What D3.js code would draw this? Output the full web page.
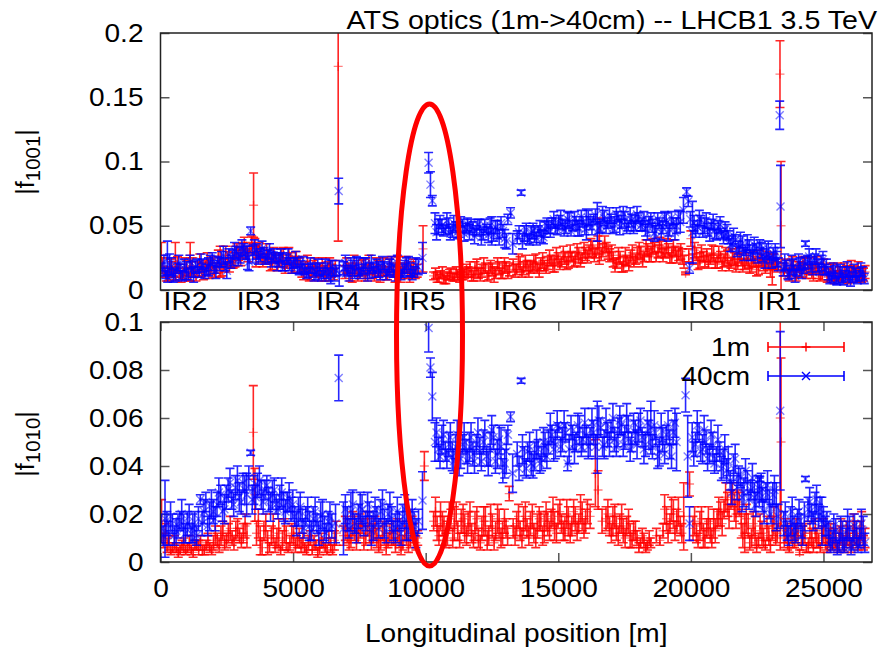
<!DOCTYPE html>
<html>
<head>
<meta charset="utf-8">
<script src="https://cdn.jsdelivr.net/npm/d3@7"></script>
<style>
  body { margin: 0; background: #fff; }
  svg { display: block; }
  text { font-family: "Liberation Sans", Arial, sans-serif; fill: #000; }
</style>
</head>
<body>
<div id="chart"></div>
<script>
// [s (m), |f|, error]
const f1001_1m = [
  [30,0.027,0.010],[150,0.014,0.004],[290,0.012,0.005],[430,0.016,0.006],[560,0.025,0.012],[570,0.011,0.004],[710,0.015,0.005],[850,0.013,0.004],[990,0.017,0.006],[1120,0.027,0.010],[1130,0.012,0.005],[1270,0.014,0.004],[1410,0.016,0.006],
  [1550,0.016,0.005],[1690,0.019,0.004],[1830,0.015,0.006],[1970,0.021,0.005],[2110,0.017,0.004],[2250,0.022,0.012],[2390,0.019,0.005],[2530,0.024,0.006],[2670,0.021,0.004],[2810,0.026,0.008],[2950,0.028,0.005],
  [3090,0.031,0.006],[3230,0.029,0.005],[3370,0.033,0.004],[3510,0.066,0.025],[3560,0.034,0.006],[3650,0.030,0.005],
  [3790,0.027,0.006],[3930,0.024,0.004],[4070,0.026,0.005],[4210,0.022,0.006],[4350,0.025,0.004],[4490,0.023,0.005],[4630,0.027,0.006],[4770,0.021,0.004],[4910,0.024,0.005],[5050,0.020,0.006],[5190,0.022,0.004],
  [5330,0.015,0.005],[5470,0.018,0.004],[5610,0.012,0.005],[5750,0.017,0.006],[5890,0.014,0.004],[6030,0.016,0.005],[6170,0.013,0.006],[6310,0.018,0.004],[6450,0.015,0.005],[6590,0.017,0.006],
  [6700,0.174,0.136],
  [6950,0.014,0.005],[7090,0.017,0.004],[7230,0.012,0.006],[7370,0.016,0.005],[7510,0.013,0.004],[7650,0.018,0.006],[7790,0.014,0.005],[7930,0.016,0.004],[8070,0.012,0.005],[8210,0.017,0.006],
  [8350,0.015,0.004],[8490,0.013,0.005],[8630,0.018,0.006],[8770,0.014,0.004],[8910,0.016,0.005],[9050,0.012,0.006],[9190,0.017,0.004],[9330,0.014,0.005],[9470,0.016,0.006],[9610,0.013,0.004],
  [9900,0.032,0.018],
  [10300,0.011,0.003],[10430,0.010,0.004],[10560,0.012,0.003],[10690,0.009,0.004],[10820,0.011,0.003],[10950,0.013,0.004],[11080,0.010,0.003],[11210,0.012,0.004],[11340,0.011,0.003],[11470,0.013,0.004],
  [11600,0.014,0.004],[11730,0.012,0.005],[11860,0.016,0.006],[11990,0.013,0.004],[12120,0.015,0.005],[12250,0.017,0.004],[12380,0.014,0.006],[12510,0.016,0.005],[12640,0.013,0.004],[12770,0.017,0.005],[12900,0.015,0.006],[13030,0.018,0.004],[13160,0.016,0.005],
  [13300,0.019,0.005],[13430,0.016,0.004],[13560,0.020,0.006],[13690,0.017,0.005],[13820,0.019,0.004],[13950,0.018,0.005],[14080,0.021,0.006],[14210,0.017,0.004],[14340,0.020,0.005],[14470,0.019,0.004],
  [14600,0.021,0.005],[14730,0.023,0.004],[14860,0.020,0.006],[14990,0.024,0.005],[15120,0.022,0.004],[15250,0.025,0.005],[15380,0.023,0.006],[15510,0.026,0.004],[15640,0.024,0.005],[15770,0.027,0.006],[15900,0.025,0.004],[16030,0.028,0.005],
  [16160,0.030,0.005],[16290,0.032,0.006],[16420,0.029,0.004],[16550,0.038,0.018],[16680,0.031,0.005],[16810,0.033,0.004],
  [16940,0.027,0.005],[17070,0.024,0.006],[17200,0.021,0.004],[17330,0.025,0.005],[17460,0.020,0.006],[17590,0.023,0.004],[17720,0.026,0.005],[17850,0.022,0.004],[17980,0.027,0.006],[18110,0.029,0.005],[18240,0.026,0.004],
  [18370,0.031,0.005],[18500,0.028,0.006],[18630,0.033,0.004],[18760,0.030,0.005],[18890,0.032,0.006],[19020,0.029,0.004],[19150,0.031,0.005],[19280,0.027,0.006],[19410,0.030,0.004],[19540,0.028,0.005],
  [19680,0.026,0.006],[19800,0.013,0.001],[19920,0.027,0.005],[20000,0.040,0.006],[20080,0.024,0.004],[20210,0.028,0.005],[20340,0.023,0.006],[20470,0.026,0.004],
  [20600,0.027,0.005],[20730,0.024,0.004],[20860,0.028,0.006],[20990,0.022,0.005],[21120,0.026,0.004],[21250,0.023,0.005],[21380,0.025,0.006],[21510,0.021,0.004],[21640,0.024,0.005],[21770,0.022,0.006],
  [21900,0.024,0.005],[22030,0.020,0.004],[22160,0.023,0.006],[22290,0.019,0.005],[22420,0.022,0.004],[22550,0.018,0.006],[22680,0.023,0.005],[22810,0.017,0.004],[22940,0.021,0.005],[23070,0.016,0.012],[23200,0.020,0.004],
  [23360,0.168,0.026],[23400,0.050,0.050],
  [23520,0.016,0.005],[23650,0.013,0.004],[23780,0.017,0.006],[23910,0.014,0.005],[24040,0.018,0.004],[24170,0.015,0.005],[24300,0.019,0.006],[24430,0.016,0.004],[24560,0.014,0.005],[24690,0.017,0.004],[24820,0.015,0.006],[24950,0.013,0.005],
  [25080,0.016,0.004],[25210,0.012,0.005],[25340,0.014,0.006],[25470,0.011,0.004],[25600,0.013,0.005],[25730,0.010,0.004],[25860,0.014,0.005],[25990,0.012,0.006],[26120,0.015,0.004],[26250,0.011,0.005],[26380,0.013,0.004],[26510,0.012,0.005],
  // second group of BPMs
  [80,0.019,0.006],[220,0.011,0.004],[360,0.017,0.007],[500,0.013,0.005],[640,0.020,0.006],[780,0.010,0.004],[920,0.018,0.007],[1060,0.012,0.005],[1200,0.019,0.006],[1340,0.011,0.004],[1480,0.021,0.007],
  [1620,0.013,0.005],[1760,0.022,0.007],[1900,0.018,0.006],[2040,0.014,0.004],[2180,0.025,0.006],[2320,0.016,0.005],[2460,0.027,0.007],[2600,0.018,0.004],[2740,0.023,0.006],[2880,0.031,0.005],
  [3020,0.025,0.006],[3160,0.034,0.007],[3300,0.027,0.005],[3440,0.036,0.006],[3600,0.026,0.008],
  [3720,0.031,0.006],[3860,0.023,0.005],[4000,0.029,0.007],[4140,0.020,0.005],[4280,0.027,0.006],[4420,0.019,0.004],[4560,0.025,0.007],[4700,0.018,0.005],[4840,0.027,0.006],[4980,0.017,0.004],[5120,0.024,0.006],
  [5260,0.019,0.006],[5400,0.012,0.004],[5540,0.020,0.007],[5680,0.013,0.005],[5820,0.019,0.006],[5960,0.011,0.004],[6100,0.018,0.007],[6240,0.012,0.005],[6380,0.019,0.006],[6520,0.012,0.004],
  [7020,0.019,0.006],[7160,0.012,0.005],[7300,0.020,0.007],[7440,0.011,0.004],[7580,0.017,0.006],[7720,0.012,0.005],[7860,0.020,0.007],[8000,0.013,0.004],[8140,0.019,0.006],[8280,0.011,0.005],
  [8420,0.018,0.007],[8560,0.012,0.004],[8700,0.020,0.006],[8840,0.011,0.005],[8980,0.019,0.007],[9120,0.013,0.004],[9260,0.020,0.006],[9400,0.011,0.005],[9540,0.018,0.006],[9680,0.015,0.005],
  [10370,0.013,0.004],[10500,0.009,0.003],[10630,0.014,0.004],[10760,0.008,0.003],[10890,0.012,0.004],[11020,0.010,0.003],[11150,0.014,0.004],[11280,0.009,0.003],[11410,0.012,0.004],[11540,0.015,0.005],
  [11670,0.017,0.005],[11800,0.011,0.004],[11930,0.018,0.006],[12060,0.012,0.005],[12190,0.019,0.006],[12320,0.011,0.004],[12450,0.018,0.005],[12580,0.012,0.006],[12710,0.020,0.005],[12840,0.013,0.004],[12970,0.019,0.006],[13100,0.014,0.005],
  [13370,0.015,0.005],[13500,0.022,0.006],[13630,0.014,0.004],[13760,0.021,0.006],[13890,0.015,0.005],[14020,0.018,0.004],[14150,0.022,0.006],[14280,0.015,0.005],[14410,0.023,0.006],[14540,0.017,0.004],
  [14670,0.025,0.006],[14800,0.019,0.005],[14930,0.027,0.006],[15060,0.020,0.004],[15190,0.028,0.006],[15320,0.021,0.005],[15450,0.029,0.006],[15580,0.022,0.004],[15710,0.030,0.006],[15840,0.023,0.005],[15970,0.031,0.006],[16100,0.026,0.005],
  [16230,0.034,0.006],[16360,0.027,0.005],[16490,0.035,0.007],[16620,0.028,0.005],[16750,0.036,0.006],[16880,0.029,0.005],
  [17010,0.029,0.006],[17140,0.019,0.005],[17270,0.027,0.006],[17400,0.018,0.004],[17530,0.026,0.007],[17660,0.020,0.005],[17790,0.029,0.006],[17920,0.024,0.004],[18050,0.031,0.006],[18180,0.023,0.005],[18310,0.033,0.006],
  [18430,0.027,0.005],[18560,0.034,0.006],[18690,0.026,0.004],[18820,0.035,0.006],[18950,0.027,0.005],[19080,0.034,0.006],[19210,0.025,0.004],[19340,0.033,0.006],[19470,0.026,0.005],
  [19620,0.030,0.006],[19740,0.022,0.005],[20140,0.031,0.006],[20270,0.021,0.005],[20400,0.029,0.006],[20530,0.022,0.004],
  [20660,0.022,0.005],[20790,0.029,0.006],[20920,0.021,0.004],[21050,0.028,0.006],[21180,0.020,0.005],[21310,0.027,0.006],[21440,0.019,0.004],[21570,0.026,0.006],[21700,0.019,0.005],[21830,0.027,0.006],
  [21960,0.019,0.005],[22090,0.025,0.006],[22220,0.017,0.004],[22350,0.024,0.006],[22480,0.016,0.005],[22610,0.025,0.006],[22740,0.019,0.004],[22870,0.024,0.006],[23000,0.015,0.005],[23130,0.022,0.006],[23260,0.018,0.004],
  [23580,0.019,0.005],[23710,0.011,0.004],[23840,0.020,0.006],[23970,0.012,0.005],[24100,0.016,0.006],[24230,0.021,0.005],[24360,0.013,0.004],[24490,0.019,0.006],[24620,0.012,0.005],[24750,0.020,0.006],[24880,0.011,0.004],[25010,0.018,0.006],
  [25140,0.010,0.004],[25270,0.016,0.005],[25400,0.009,0.004],[25530,0.015,0.006],[25660,0.011,0.004],[25790,0.016,0.005],[25920,0.009,0.004],[26050,0.017,0.006],[26180,0.013,0.005],[26310,0.016,0.006],[26440,0.010,0.004],[26570,0.014,0.005]
];

const f1001_40cm = [
  [60,0.016,0.005],[200,0.013,0.004],[260,0.025,0.013],[340,0.020,0.008],[480,0.011,0.005],[620,0.017,0.004],[760,0.014,0.006],[900,0.019,0.005],[1040,0.012,0.004],[1180,0.016,0.006],[1320,0.018,0.005],[1460,0.014,0.004],
  [1600,0.019,0.005],[1740,0.016,0.004],[1880,0.021,0.006],[2020,0.018,0.005],[2160,0.022,0.004],[2300,0.024,0.006],[2440,0.020,0.005],[2500,0.015,0.006],[2580,0.027,0.005],[2720,0.025,0.006],[2860,0.029,0.005],
  [3000,0.027,0.006],[3140,0.031,0.005],[3280,0.025,0.009],[3400,0.046,0.003],[3480,0.028,0.007],
  [3620,0.030,0.006],[3760,0.027,0.005],[3900,0.029,0.004],[4040,0.026,0.005],[4180,0.024,0.006],[4320,0.025,0.004],[4460,0.023,0.005],[4600,0.022,0.007],[4740,0.024,0.004],[4880,0.020,0.005],[5020,0.021,0.004],[5160,0.019,0.006],
  [5300,0.018,0.005],[5440,0.016,0.004],[5580,0.015,0.005],[5720,0.017,0.004],[5860,0.014,0.006],[6000,0.016,0.005],[6140,0.013,0.004],[6280,0.015,0.006],[6420,0.014,0.009],[6560,0.012,0.005],
  [6720,0.077,0.010],[6740,0.013,0.010],
  [6900,0.017,0.005],[7040,0.015,0.004],[7180,0.019,0.006],[7320,0.014,0.005],[7460,0.018,0.007],[7600,0.016,0.004],[7740,0.020,0.005],[7880,0.015,0.006],[8020,0.017,0.004],[8160,0.019,0.005],
  [8300,0.014,0.006],[8440,0.018,0.004],[8580,0.016,0.005],[8720,0.020,0.006],[8860,0.013,0.006],[9000,0.017,0.004],[9140,0.015,0.005],[9280,0.019,0.006],[9420,0.016,0.005],[9560,0.014,0.004],
  [9720,0.018,0.006],[9880,0.025,0.012],
  [10110,0.099,0.008],[10180,0.082,0.010],[10250,0.0695,0.004],
  [10350,0.052,0.008],[10480,0.049,0.006],[10610,0.050,0.005],[10740,0.047,0.004],[10870,0.050,0.006],[11000,0.046,0.005],[11130,0.049,0.004],[11260,0.047,0.006],[11390,0.050,0.005],[11520,0.048,0.004],
  [11650,0.045,0.006],[11780,0.048,0.005],[11910,0.046,0.004],[12040,0.049,0.006],[12170,0.044,0.005],[12300,0.047,0.004],[12430,0.050,0.006],[12560,0.043,0.005],[12700,0.047,0.007],[12840,0.052,0.005],[12980,0.040,0.007],[13100,0.055,0.004],
  [13200,0.060,0.004],[13280,0.036,0.008],[13600,0.0757,0.002],
  [13450,0.041,0.005],[13720,0.044,0.006],[13850,0.040,0.004],[13980,0.045,0.005],[14110,0.043,0.006],[14240,0.046,0.004],[14370,0.042,0.005],[14500,0.047,0.006],
  [14630,0.049,0.005],[14760,0.052,0.004],[14890,0.050,0.006],[15020,0.053,0.005],[15150,0.051,0.004],[15280,0.049,0.005],[15410,0.054,0.006],[15540,0.050,0.004],[15670,0.052,0.005],[15800,0.048,0.006],[15930,0.053,0.004],[16060,0.051,0.012],
  [16200,0.052,0.005],[16330,0.055,0.004],[16470,0.053,0.015],[16600,0.050,0.005],[16730,0.056,0.006],[16860,0.052,0.004],[16990,0.054,0.005],[17120,0.051,0.006],[17250,0.057,0.004],[17380,0.053,0.005],[17510,0.055,0.006],[17640,0.050,0.004],[17770,0.054,0.005],[17900,0.052,0.006],[18030,0.056,0.004],
  [18160,0.051,0.005],[18290,0.048,0.006],[18420,0.053,0.004],[18550,0.050,0.005],[18680,0.046,0.006],[18810,0.052,0.004],[18940,0.049,0.005],[19070,0.054,0.006],[19200,0.047,0.005],[19330,0.052,0.004],[19460,0.050,0.006],
  [19600,0.053,0.008],[19720,0.062,0.010],[19840,0.0765,0.003],[19900,0.069,0.004],[19950,0.017,0.004],[19980,0.055,0.006],[20060,0.045,0.024],
  [20120,0.052,0.006],[20250,0.049,0.005],[20380,0.054,0.004],[20510,0.050,0.006],[20640,0.047,0.005],[20770,0.051,0.004],[20900,0.046,0.006],[21030,0.049,0.005],[21160,0.044,0.004],[21290,0.047,0.006],
  [21420,0.041,0.005],[21550,0.036,0.006],[21680,0.039,0.004],[21810,0.033,0.005],[21940,0.036,0.006],[22070,0.031,0.004],[22200,0.034,0.005],[22330,0.029,0.006],[22460,0.032,0.004],
  [22600,0.036,0.003],[22720,0.027,0.005],[22850,0.030,0.006],[22980,0.025,0.004],[23110,0.028,0.005],[23240,0.024,0.006],
  [23350,0.136,0.011],[23380,0.065,0.032],
  [23480,0.016,0.005],[23600,0.019,0.004],[23730,0.014,0.005],[23860,0.018,0.006],[23990,0.015,0.004],[24120,0.020,0.005],[24250,0.017,0.004],[24320,0.036,0.002],
  [24400,0.022,0.005],[24530,0.020,0.006],[24660,0.024,0.004],[24790,0.019,0.005],[24920,0.021,0.006],[25050,0.016,0.004],
  [25180,0.013,0.005],[25310,0.010,0.004],[25440,0.014,0.005],[25570,0.009,0.004],[25700,0.012,0.006],[25830,0.011,0.004],[25960,0.013,0.005],[26090,0.010,0.004],[26220,0.012,0.005],[26350,0.011,0.004],[26480,0.013,0.005],
  // second group of BPMs
  [130,0.021,0.006],[270,0.010,0.004],[410,0.018,0.007],[550,0.012,0.005],[690,0.021,0.006],[830,0.011,0.004],[970,0.015,0.007],[1110,0.022,0.005],[1250,0.012,0.006],[1390,0.019,0.005],
  [1530,0.022,0.006],[1670,0.013,0.004],[1810,0.018,0.007],[1950,0.024,0.005],[2090,0.015,0.006],[2230,0.020,0.005],[2370,0.027,0.007],[2650,0.022,0.005],[2790,0.031,0.006],[2930,0.024,0.005],
  [3070,0.033,0.006],[3210,0.029,0.005],[3340,0.022,0.007],[3540,0.033,0.006],
  [3690,0.025,0.005],[3830,0.032,0.006],[3970,0.024,0.004],[4110,0.030,0.006],[4250,0.027,0.005],[4390,0.021,0.006],[4530,0.027,0.005],[4670,0.019,0.004],[4810,0.026,0.006],[4950,0.018,0.005],[5090,0.024,0.006],[5230,0.016,0.004],
  [5370,0.020,0.006],[5510,0.013,0.004],[5650,0.019,0.006],[5790,0.012,0.005],[5930,0.018,0.006],[6070,0.011,0.004],[6210,0.018,0.006],[6350,0.012,0.005],[6490,0.017,0.006],[6630,0.015,0.004],
  [6970,0.021,0.006],[7110,0.012,0.005],[7250,0.017,0.006],[7390,0.021,0.005],[7530,0.013,0.004],[7670,0.019,0.006],[7810,0.012,0.005],[7950,0.021,0.006],[8090,0.014,0.004],[8230,0.016,0.006],
  [8370,0.021,0.005],[8510,0.012,0.004],[8650,0.018,0.006],[8790,0.015,0.005],[8930,0.021,0.006],[9070,0.012,0.004],[9210,0.017,0.006],[9350,0.021,0.005],[9490,0.012,0.004],[9630,0.019,0.006],
  [10410,0.045,0.006],[10540,0.053,0.005],[10670,0.046,0.004],[10800,0.054,0.006],[10930,0.044,0.005],[11060,0.052,0.006],[11190,0.045,0.005],[11320,0.053,0.004],[11450,0.044,0.006],[11580,0.051,0.005],
  [11710,0.050,0.005],[11840,0.042,0.006],[11970,0.051,0.004],[12100,0.041,0.006],[12230,0.050,0.005],[12360,0.043,0.006],[12490,0.046,0.011],[12630,0.049,0.005],[12770,0.041,0.006],[12910,0.046,0.005],[13040,0.038,0.006],
  [13520,0.045,0.005],[13650,0.038,0.006],[13790,0.047,0.005],[13920,0.039,0.004],[14050,0.046,0.006],[14180,0.040,0.005],[14310,0.048,0.006],[14440,0.041,0.005],[14570,0.050,0.006],
  [14700,0.046,0.005],[14830,0.055,0.006],[14960,0.047,0.004],[15090,0.056,0.006],[15220,0.047,0.005],[15350,0.055,0.006],[15480,0.046,0.004],[15610,0.056,0.005],[15740,0.048,0.006],[15870,0.057,0.005],[16000,0.047,0.004],[16130,0.056,0.006],
  [16270,0.049,0.006],[16400,0.058,0.005],[16530,0.048,0.004],[16670,0.059,0.006],[16800,0.049,0.005],[16930,0.058,0.006],[17060,0.048,0.004],[17190,0.059,0.005],[17320,0.049,0.006],[17450,0.060,0.005],[17580,0.048,0.004],[17710,0.058,0.006],[17840,0.049,0.005],[17970,0.059,0.006],[18100,0.050,0.004],
  [18230,0.056,0.005],[18360,0.045,0.006],[18490,0.056,0.004],[18620,0.044,0.006],[18750,0.055,0.005],[18880,0.045,0.006],[19010,0.057,0.004],[19140,0.044,0.006],[19270,0.056,0.005],[19400,0.045,0.006],[19530,0.057,0.005],
  [20180,0.046,0.005],[20320,0.056,0.006],[20450,0.045,0.004],[20580,0.054,0.006],[20710,0.043,0.005],[20840,0.053,0.006],[20970,0.043,0.004],[21100,0.051,0.006],[21230,0.041,0.005],[21360,0.045,0.006],
  [21480,0.035,0.005],[21610,0.042,0.006],[21740,0.030,0.004],[21870,0.039,0.006],[22000,0.028,0.005],[22130,0.037,0.006],[22260,0.027,0.004],[22390,0.035,0.006],[22520,0.026,0.005],
  [22660,0.031,0.006],[22790,0.022,0.005],[22920,0.032,0.006],[23050,0.021,0.004],[23180,0.030,0.006],[23300,0.020,0.005],
  [23540,0.022,0.006],[23670,0.012,0.004],[23800,0.021,0.006],[23930,0.011,0.005],[24060,0.022,0.006],[24190,0.013,0.004],[24300,0.021,0.005],
  [24460,0.026,0.006],[24590,0.017,0.005],[24720,0.026,0.006],[24850,0.016,0.004],[24980,0.024,0.006],
  [25110,0.018,0.006],[25240,0.009,0.004],[25370,0.016,0.005],[25500,0.007,0.003],[25630,0.015,0.005],[25760,0.008,0.004],[25890,0.016,0.006],[26020,0.007,0.004],[26150,0.015,0.005],[26280,0.008,0.003],[26410,0.016,0.005],[26540,0.009,0.004]
];

const f1010_1m = [
  [40,0.017,0.009],[180,0.012,0.004],[320,0.008,0.003],[460,0.006,0.002],
  [600,0.006,0.002],[740,0.005,0.002],[880,0.007,0.003],[1020,0.006,0.002],[1160,0.005,0.002],[1300,0.007,0.002],[1440,0.006,0.003],[1580,0.005,0.002],[1720,0.007,0.002],[1860,0.006,0.002],[2000,0.008,0.003],
  [2140,0.009,0.003],[2280,0.011,0.004],[2420,0.008,0.003],[2560,0.012,0.004],[2700,0.010,0.003],[2840,0.013,0.004],[2980,0.011,0.003],[3120,0.012,0.004],
  [3260,0.011,0.005],[3500,0.054,0.0195],[3560,0.028,0.011],
  [3620,0.012,0.005],[3760,0.009,0.006],[3900,0.013,0.004],[4040,0.008,0.005],[4180,0.011,0.004],[4320,0.007,0.003],[4460,0.012,0.006],[4600,0.009,0.004],[4740,0.010,0.005],[4880,0.008,0.003],[5020,0.011,0.004],[5160,0.009,0.003],
  [5300,0.007,0.003],[5440,0.006,0.002],[5580,0.008,0.003],[5720,0.005,0.002],[5860,0.007,0.002],[6000,0.006,0.003],[6140,0.008,0.002],[6280,0.005,0.002],[6420,0.007,0.003],[6560,0.009,0.004],
  [6900,0.011,0.004],[7040,0.013,0.005],[7180,0.010,0.004],[7320,0.014,0.005],[7460,0.012,0.004],[7600,0.015,0.003],[7740,0.011,0.004],[7880,0.013,0.005],[8020,0.012,0.004],
  [8160,0.010,0.004],[8300,0.008,0.003],[8440,0.011,0.004],[8580,0.009,0.003],[8720,0.012,0.005],[8860,0.007,0.003],[9000,0.010,0.004],[9140,0.008,0.003],[9280,0.011,0.004],[9420,0.009,0.003],[9560,0.012,0.004],[9700,0.010,0.003],
  [9950,0.040,0.006],
  [10300,0.017,0.004],[10430,0.014,0.005],[10560,0.019,0.006],[10690,0.015,0.004],[10820,0.012,0.005],[10950,0.018,0.004],[11080,0.016,0.007],[11210,0.013,0.004],[11340,0.017,0.005],[11470,0.014,0.006],
  [11600,0.016,0.005],[11730,0.012,0.004],[11860,0.015,0.006],[11990,0.010,0.004],[12120,0.014,0.005],[12250,0.017,0.006],[12380,0.011,0.004],[12510,0.015,0.005],[12640,0.013,0.004],[12770,0.016,0.006],[12900,0.012,0.005],[13030,0.014,0.004],
  [13150,0.0285,0.003],
  [13300,0.014,0.004],[13430,0.016,0.005],[13560,0.013,0.004],[13690,0.017,0.006],[13820,0.014,0.004],[13950,0.016,0.005],[14080,0.012,0.004],[14210,0.015,0.005],[14340,0.017,0.004],[14470,0.014,0.006],
  [14600,0.016,0.005],[14730,0.018,0.004],[14860,0.015,0.006],[14990,0.019,0.005],[15120,0.016,0.004],[15250,0.014,0.005],[15380,0.017,0.006],[15510,0.015,0.004],[15640,0.018,0.005],[15770,0.016,0.004],[15900,0.019,0.006],[16030,0.017,0.005],
  [16200,0.019,0.005],[16400,0.037,0.014],[16500,0.030,0.008],[16650,0.017,0.005],
  [16800,0.018,0.005],[16930,0.015,0.004],[17060,0.017,0.006],[17190,0.014,0.005],[17320,0.016,0.004],[17450,0.013,0.005],[17580,0.015,0.004],[17710,0.011,0.005],[17840,0.013,0.004],[17970,0.010,0.003],[18100,0.008,0.002],[18230,0.009,0.003],[18360,0.007,0.002],[18490,0.008,0.002],
  [18700,0.011,0.003],[18830,0.009,0.002],
  [18950,0.013,0.003],[19080,0.018,0.005],[19210,0.016,0.004],[19340,0.020,0.006],[19470,0.017,0.005],[19600,0.015,0.004],[19730,0.019,0.014],[19950,0.0325,0.005],
  [20080,0.014,0.005],[20210,0.012,0.004],[20340,0.015,0.006],[20470,0.011,0.005],[20600,0.014,0.004],[20730,0.013,0.005],[20860,0.016,0.006],[20990,0.018,0.004],[21120,0.020,0.005],[21250,0.022,0.004],[21380,0.024,0.005],[21510,0.026,0.004],[21640,0.023,0.006],[21770,0.025,0.005],
  [21900,0.016,0.006],[22030,0.012,0.008],[22160,0.015,0.005],[22290,0.010,0.004],[22420,0.013,0.006],[22550,0.009,0.003],[22680,0.012,0.005],[22810,0.007,0.002],[22940,0.011,0.004],[23070,0.014,0.005],[23200,0.010,0.003],
  [23370,0.060,0.055],[23400,0.050,0.035],
  [23520,0.010,0.004],[23650,0.008,0.003],[23780,0.012,0.004],[23910,0.009,0.003],[24040,0.011,0.004],[24100,0.004,0.001],[24170,0.008,0.003],[24300,0.012,0.004],[24430,0.007,0.003],[24560,0.010,0.004],[24690,0.013,0.005],[24820,0.009,0.003],[24950,0.011,0.004],
  [25080,0.008,0.003],[25210,0.010,0.004],[25340,0.007,0.002],[25470,0.009,0.003],[25600,0.011,0.004],[25730,0.008,0.003],[25860,0.012,0.005],[25990,0.009,0.003],[26120,0.014,0.006],[26250,0.010,0.004],[26380,0.012,0.005],[26510,0.008,0.003],
  // second group of BPMs
  [110,0.009,0.003],[250,0.007,0.003],[390,0.005,0.002],[530,0.008,0.003],[670,0.004,0.002],[810,0.007,0.002],[950,0.005,0.002],[1090,0.008,0.003],[1230,0.004,0.002],[1370,0.007,0.002],[1510,0.008,0.003],[1650,0.005,0.002],[1790,0.009,0.003],[1930,0.005,0.002],
  [2070,0.011,0.004],[2210,0.007,0.003],[2350,0.013,0.004],[2490,0.009,0.003],[2630,0.014,0.005],[2770,0.008,0.003],[2910,0.014,0.004],[3050,0.009,0.003],[3190,0.015,0.005],
  [3690,0.016,0.006],[3830,0.006,0.003],[3970,0.015,0.005],[4110,0.006,0.002],[4250,0.014,0.006],[4390,0.010,0.004],[4530,0.005,0.002],[4670,0.013,0.005],[4810,0.006,0.002],[4950,0.012,0.004],[5090,0.007,0.003],[5230,0.010,0.004],
  [5370,0.009,0.003],[5510,0.005,0.002],[5650,0.010,0.003],[5790,0.008,0.003],[5930,0.004,0.002],[6070,0.009,0.003],[6210,0.006,0.002],[6350,0.010,0.003],[6490,0.005,0.002],[6630,0.012,0.005],
  [6970,0.014,0.005],[7110,0.008,0.003],[7250,0.016,0.005],[7390,0.009,0.004],[7530,0.015,0.005],[7670,0.008,0.003],[7810,0.016,0.005],[7950,0.009,0.004],[8090,0.014,0.005],[8230,0.007,0.003],
  [8370,0.013,0.004],[8510,0.006,0.003],[8650,0.012,0.004],[8790,0.010,0.003],[8930,0.013,0.005],[9070,0.006,0.003],[9210,0.013,0.004],[9350,0.007,0.003],[9490,0.014,0.005],[9630,0.008,0.003],
  [10370,0.021,0.006],[10500,0.011,0.004],[10630,0.016,0.005],[10760,0.009,0.003],[10890,0.019,0.006],[11020,0.010,0.004],[11150,0.020,0.005],[11280,0.009,0.003],[11410,0.018,0.006],[11540,0.011,0.004],
  [11670,0.019,0.006],[11800,0.009,0.003],[11930,0.018,0.005],[12060,0.008,0.003],[12190,0.017,0.006],[12320,0.009,0.004],[12450,0.019,0.005],[12580,0.008,0.003],[12710,0.018,0.006],[12840,0.010,0.004],[12970,0.017,0.005],[13090,0.011,0.004],
  [13370,0.011,0.004],[13500,0.019,0.005],[13630,0.010,0.004],[13760,0.019,0.006],[13890,0.011,0.004],[14020,0.019,0.005],[14150,0.010,0.004],[14280,0.018,0.005],[14410,0.011,0.004],[14540,0.019,0.006],
  [14670,0.013,0.004],[14800,0.021,0.006],[14930,0.012,0.004],[15060,0.021,0.005],[15190,0.013,0.004],[15320,0.020,0.006],[15450,0.012,0.004],[15580,0.021,0.005],[15710,0.013,0.004],[15840,0.022,0.006],[15970,0.014,0.004],[16100,0.021,0.005],
  [16870,0.020,0.006],[17000,0.012,0.004],[17130,0.019,0.005],[17260,0.011,0.004],[17390,0.018,0.006],[17520,0.010,0.004],[17650,0.017,0.005],[17780,0.009,0.003],[17910,0.013,0.004],[18040,0.006,0.002],[18170,0.011,0.003],[18300,0.006,0.002],[18430,0.010,0.003],
  [19010,0.022,0.006],[19140,0.012,0.004],[19270,0.022,0.005],[19400,0.013,0.004],[19530,0.021,0.006],[19660,0.012,0.004],
  [20140,0.017,0.006],[20270,0.009,0.003],[20400,0.018,0.005],[20530,0.010,0.004],[20660,0.017,0.006],[20790,0.010,0.004],[20920,0.013,0.005],[21050,0.021,0.006],[21180,0.016,0.005],[21310,0.027,0.006],[21440,0.019,0.005],[21570,0.028,0.005],[21700,0.020,0.006],[21830,0.024,0.005],
  [21960,0.011,0.005],[22090,0.018,0.006],[22220,0.008,0.003],[22350,0.016,0.005],[22480,0.007,0.003],[22610,0.015,0.005],[22740,0.010,0.004],[22870,0.014,0.005],[23000,0.007,0.003],[23130,0.017,0.006],[23260,0.012,0.004],
  [23580,0.013,0.005],[23710,0.006,0.002],[23840,0.010,0.004],[23970,0.013,0.005],[24230,0.011,0.004],[24360,0.006,0.002],[24490,0.012,0.005],[24620,0.007,0.003],[24750,0.010,0.004],[24880,0.006,0.002],[25010,0.013,0.005],[25140,0.007,0.003],
  [25270,0.012,0.004],[25400,0.010,0.004],[25530,0.006,0.002],[25660,0.013,0.005],[25790,0.007,0.003],[25920,0.011,0.004],[26050,0.007,0.003],[26180,0.012,0.005],[26310,0.008,0.003],[26440,0.015,0.006],[26570,0.010,0.004]
];

const f1010_40cm = [
  [30,0.014,0.006],[170,0.018,0.016],[310,0.012,0.005],[450,0.016,0.004],
  [590,0.013,0.005],[730,0.017,0.004],[870,0.014,0.006],[1010,0.016,0.005],[1150,0.012,0.004],[1290,0.015,0.006],[1430,0.018,0.005],
  [1500,0.026,0.002],[1570,0.016,0.005],[1710,0.025,0.004],[1850,0.019,0.006],[1990,0.021,0.005],
  [2130,0.024,0.005],[2270,0.028,0.004],[2410,0.022,0.006],[2550,0.030,0.005],[2690,0.026,0.004],
  [2830,0.031,0.005],[2970,0.027,0.006],[3110,0.033,0.004],[3250,0.028,0.009],[3400,0.0455,0.001],[3520,0.030,0.006],
  [3660,0.032,0.005],[3800,0.028,0.006],[3940,0.030,0.004],[4080,0.026,0.005],[4220,0.028,0.006],[4360,0.024,0.004],[4500,0.027,0.005],[4640,0.023,0.006],[4780,0.025,0.004],
  [4920,0.022,0.005],[5060,0.019,0.004],[5200,0.021,0.006],[5340,0.017,0.005],[5480,0.019,0.004],[5620,0.015,0.006],[5760,0.018,0.005],[5900,0.016,0.004],[6040,0.019,0.006],[6180,0.014,0.005],[6320,0.017,0.004],
  [6460,0.015,0.005],[6600,0.016,0.008],[6720,0.0767,0.0095],
  [6900,0.014,0.011],[7040,0.018,0.005],[7180,0.021,0.008],[7320,0.016,0.004],[7460,0.019,0.005],[7600,0.022,0.006],[7740,0.017,0.004],[7880,0.020,0.005],[8020,0.015,0.006],[8160,0.019,0.004],
  [8300,0.021,0.005],[8440,0.016,0.006],[8580,0.020,0.004],[8720,0.018,0.005],[8860,0.014,0.006],[9000,0.017,0.004],[9140,0.019,0.005],[9280,0.015,0.006],[9420,0.018,0.004],[9560,0.016,0.005],
  [9730,0.017,0.005],[9880,0.0256,0.012],
  [10110,0.0975,0.010],[10180,0.081,0.004],[10250,0.069,0.010],
  [10350,0.050,0.008],[10480,0.047,0.005],[10610,0.051,0.006],[10740,0.046,0.004],[10870,0.049,0.005],[11000,0.044,0.006],[11130,0.048,0.005],[11260,0.045,0.009],[11390,0.049,0.004],[11520,0.046,0.005],
  [11650,0.048,0.006],[11780,0.045,0.005],[11910,0.049,0.004],[12040,0.046,0.006],[12170,0.050,0.005],[12300,0.044,0.004],[12430,0.047,0.007],[12560,0.052,0.005],[12700,0.045,0.006],[12840,0.048,0.008],[12980,0.041,0.006],[13100,0.053,0.004],
  [13200,0.0605,0.002],[13280,0.037,0.008],[13600,0.0755,0.001],
  [13450,0.045,0.005],[13720,0.042,0.006],[13850,0.046,0.004],[13980,0.041,0.005],[14110,0.044,0.006],[14240,0.047,0.004],[14370,0.043,0.005],[14500,0.048,0.006],
  [14630,0.050,0.005],[14760,0.053,0.004],[14890,0.049,0.006],[15020,0.056,0.002],[15150,0.051,0.005],[15280,0.054,0.004],[15350,0.041,0.003],[15410,0.047,0.006],[15540,0.052,0.005],[15670,0.050,0.004],[15800,0.055,0.006],[15930,0.051,0.005],[16060,0.053,0.004],
  [16200,0.050,0.006],[16330,0.054,0.005],[16470,0.052,0.015],[16600,0.056,0.004],[16730,0.049,0.006],[16860,0.053,0.005],
  [16990,0.055,0.004],[17120,0.051,0.005],[17250,0.054,0.006],[17380,0.057,0.004],[17510,0.052,0.005],[17640,0.055,0.006],[17770,0.050,0.004],[17900,0.054,0.005],[18030,0.056,0.006],[18160,0.052,0.004],[18290,0.049,0.005],[18420,0.053,0.006],
  [18550,0.048,0.005],[18680,0.052,0.004],[18810,0.046,0.006],[18940,0.051,0.005],[19070,0.053,0.004],[19200,0.049,0.006],[19330,0.054,0.005],[19460,0.050,0.012],
  [19800,0.0695,0.007],[19880,0.044,0.017],[19950,0.016,0.007],
  [20050,0.052,0.006],[20180,0.049,0.005],[20310,0.054,0.004],[20440,0.047,0.006],[20570,0.050,0.005],[20700,0.045,0.004],[20830,0.048,0.006],[20960,0.043,0.005],[21090,0.046,0.004],[21220,0.041,0.006],
  [21350,0.038,0.005],[21480,0.034,0.004],[21610,0.039,0.006],[21740,0.031,0.005],[21870,0.035,0.004],[22000,0.029,0.006],[22130,0.033,0.005],[22260,0.030,0.004],[22390,0.027,0.006],[22520,0.031,0.005],
  [22600,0.0346,0.001],[22700,0.026,0.005],[22830,0.029,0.004],[22960,0.024,0.006],[23090,0.028,0.005],[23220,0.023,0.010],
  [23370,0.063,0.033],
  [23500,0.016,0.005],[23630,0.013,0.004],[23760,0.017,0.006],[23890,0.014,0.005],[24020,0.018,0.004],[24150,0.015,0.005],[24280,0.019,0.006],[24320,0.0346,0.001],
  [24420,0.022,0.005],[24550,0.020,0.004],[24680,0.023,0.006],[24810,0.019,0.005],[24940,0.017,0.010],[25070,0.015,0.004],
  [25200,0.012,0.005],[25330,0.009,0.004],[25460,0.013,0.005],[25590,0.008,0.004],[25720,0.011,0.006],[25850,0.010,0.004],[25980,0.014,0.005],[26110,0.009,0.004],[26240,0.012,0.005],[26370,0.010,0.004],[26500,0.013,0.006],
  // second group of BPMs
  [100,0.011,0.004],[240,0.016,0.005],[380,0.019,0.006],[520,0.011,0.004],[660,0.015,0.005],[800,0.020,0.006],[940,0.012,0.004],[1080,0.019,0.005],[1220,0.014,0.006],[1360,0.011,0.004],
  [1640,0.021,0.005],[1780,0.015,0.004],[1920,0.024,0.006],[2060,0.018,0.005],[2200,0.029,0.006],[2340,0.021,0.004],[2480,0.027,0.005],[2620,0.033,0.006],[2760,0.024,0.005],
  [2900,0.034,0.006],[3040,0.025,0.005],[3180,0.030,0.006],[3330,0.035,0.005],[3460,0.026,0.006],
  [3590,0.027,0.005],[3730,0.034,0.006],[3870,0.025,0.005],[4010,0.032,0.004],[4150,0.023,0.006],[4290,0.030,0.005],[4430,0.022,0.004],[4570,0.029,0.006],[4710,0.021,0.005],[4850,0.027,0.006],
  [4990,0.024,0.006],[5130,0.016,0.005],[5270,0.023,0.006],[5410,0.014,0.004],[5550,0.022,0.005],[5690,0.013,0.004],[5830,0.021,0.006],[5970,0.012,0.005],[6110,0.020,0.006],[6250,0.012,0.004],[6390,0.019,0.006],
  [6970,0.022,0.006],[7110,0.014,0.004],[7250,0.024,0.006],[7390,0.013,0.005],[7530,0.023,0.006],[7670,0.015,0.004],[7810,0.024,0.005],[7950,0.013,0.006],[8090,0.022,0.005],[8230,0.014,0.004],
  [8370,0.024,0.006],[8510,0.013,0.005],[8650,0.023,0.006],[8790,0.013,0.004],[8930,0.021,0.006],[9070,0.012,0.005],[9210,0.022,0.006],[9350,0.013,0.004],[9490,0.021,0.005],[9630,0.012,0.006],
  [10410,0.054,0.006],[10540,0.044,0.005],[10670,0.053,0.006],[10800,0.043,0.004],[10930,0.052,0.006],[11060,0.042,0.005],[11190,0.053,0.006],[11320,0.043,0.004],[11450,0.052,0.006],[11580,0.042,0.005],
  [11710,0.052,0.006],[11840,0.042,0.005],[11970,0.054,0.006],[12100,0.042,0.004],[12230,0.053,0.006],[12360,0.041,0.005],[12490,0.055,0.006],[12630,0.042,0.005],[12770,0.051,0.006],[12910,0.038,0.005],[13040,0.046,0.009],
  [13520,0.039,0.005],[13650,0.047,0.006],[13790,0.039,0.004],[13920,0.048,0.006],[14050,0.040,0.005],[14180,0.049,0.006],[14310,0.041,0.004],[14440,0.050,0.006],[14570,0.044,0.005],
  [14700,0.056,0.006],[14830,0.047,0.005],[14960,0.057,0.006],[15090,0.048,0.004],[15220,0.057,0.006],[15480,0.056,0.005],[15610,0.047,0.006],[15740,0.057,0.005],[15870,0.048,0.004],[16000,0.058,0.006],[16130,0.048,0.005],
  [16270,0.058,0.006],[16400,0.048,0.005],[16530,0.059,0.006],[16670,0.048,0.004],[16800,0.058,0.006],[16930,0.049,0.005],[17060,0.060,0.006],[17190,0.048,0.004],[17320,0.059,0.006],[17450,0.049,0.005],[17580,0.060,0.006],[17710,0.047,0.005],
  [17840,0.058,0.004],[17970,0.049,0.006],[18100,0.059,0.005],[18230,0.047,0.006],[18360,0.058,0.005],[18490,0.056,0.011],
  [18620,0.057,0.006],[18750,0.044,0.005],[18880,0.056,0.006],[19010,0.045,0.004],[19140,0.057,0.006],[19270,0.044,0.005],[19400,0.058,0.006],
  [20110,0.045,0.005],[20240,0.057,0.006],[20370,0.046,0.004],[20500,0.055,0.006],[20630,0.043,0.005],[20760,0.053,0.006],[20890,0.041,0.004],[21020,0.051,0.006],[21150,0.039,0.005],[21280,0.047,0.006],
  [21410,0.042,0.006],[21540,0.029,0.005],[21670,0.043,0.006],[21800,0.036,0.004],[21930,0.027,0.006],[22060,0.038,0.005],[22190,0.026,0.004],[22320,0.035,0.006],[22450,0.024,0.005],[22580,0.029,0.006],
  [22650,0.031,0.006],[22760,0.021,0.005],[22890,0.032,0.006],[23020,0.020,0.004],[23150,0.030,0.006],[23290,0.019,0.005],
  [23560,0.020,0.005],[23690,0.011,0.004],[23820,0.021,0.006],[23950,0.012,0.004],[24080,0.021,0.005],[24210,0.011,0.004],
  [24480,0.025,0.006],[24610,0.017,0.004],[24740,0.026,0.006],[24870,0.022,0.005],[25000,0.019,0.004],
  [25130,0.016,0.005],[25260,0.007,0.003],[25390,0.015,0.005],[25520,0.006,0.003],[25650,0.014,0.005],[25780,0.007,0.003],[25910,0.016,0.006],[26040,0.006,0.003],[26170,0.015,0.005],[26300,0.007,0.003],[26430,0.016,0.006],[26560,0.008,0.004]
];

const xTicks = [0, 5000, 10000, 15000, 20000, 25000];
const yTicksTop = [0, 0.05, 0.1, 0.15, 0.2];
const yTicksBottom = [0, 0.02, 0.04, 0.06, 0.08, 0.1];
const irNames = ["IR2", "IR3", "IR4", "IR5", "IR6", "IR7", "IR8", "IR1"];
const irPos = [940, 3700, 6700, 9920, 13370, 16620, 20440, 23330];
const seriesNames = ["1m", "40cm"];
const titleText = "ATS optics (1m->40cm) -- LHCB1 3.5 TeV";

const W = 879, H = 650;
const RED = "#ff0000", BLUE = "#0000ff";
const FONT = 25.5;
const SX = 1.1; // the original text is a little wider than Arial

const svg = d3.select("#chart").append("svg")
  .attr("width", W).attr("height", H);

const x = d3.scaleLinear().domain([0, 26830]).range([160.5, 872]);

const panels = [
  { id: "top", y: d3.scaleLinear().domain([0, 0.2]).range([290, 33]), ticks: yTicksTop,
    red: f1001_1m, blue: f1001_40cm, label: "1001", labelY: 162, xLabels: false },
  { id: "bot", y: d3.scaleLinear().domain([0, 0.1]).range([562, 322]), ticks: yTicksBottom,
    red: f1010_1m, blue: f1010_40cm, label: "1010", labelY: 444, xLabels: true }
];

const plus = "M-4.5,0H4.5M0,-4.5V4.5";
const cross = "M-4,-4L4,4M-4,4L4,-4";

// widen text horizontally around its own x
function stretch(sel) {
  sel.each(function () {
    const t = d3.select(this);
    const x0 = +t.attr("x") || 0;
    t.attr("x", x0 / SX).attr("transform", `scale(${SX},1)`);
  });
}

function drawErrorBars(g, data, y, color, marker) {
  const grp = g.append("g").selectAll("g").data(data).enter().append("g");
  grp.append("path")
    .attr("d", d => {
      const x0 = x(d[0]), y1 = y(d[1] - d[2]), y2 = y(d[1] + d[2]);
      return `M${x0},${y1}V${y2}M${x0 - 4.5},${y1}H${x0 + 4.5}M${x0 - 4.5},${y2}H${x0 + 4.5}`;
    })
    .attr("stroke", color).attr("stroke-width", 1.6).attr("fill", "none")
    .attr("stroke-opacity", 0.85);
  grp.append("path")
    .attr("transform", d => `translate(${x(d[0])},${y(d[1])})`)
    .attr("d", marker)
    .attr("stroke", color).attr("stroke-width", 1.4).attr("fill", "none")
    .attr("stroke-opacity", 0.5);
}

panels.forEach(p => {
  const [yb, yt] = p.y.range();
  const [xl, xr] = x.range();

  svg.append("clipPath").attr("id", "clip-" + p.id)
    .append("rect").attr("x", xl).attr("y", yt).attr("width", xr - xl).attr("height", yb - yt);

  const axes = svg.append("g");
  axes.append("g").attr("transform", `translate(${xl},0)`)
    .call(d3.axisLeft(p.y).tickValues(p.ticks).tickSize(-9).tickPadding(17).tickFormat(d => String(d)));
  axes.append("g").attr("transform", `translate(${xr},0)`)
    .call(d3.axisRight(p.y).tickValues(p.ticks).tickSize(-9).tickFormat(""));
  if (p.xLabels) {
    axes.append("g").attr("transform", `translate(0,${yb})`)
      .call(d3.axisBottom(x).tickValues(xTicks).tickSize(-9).tickPadding(17).tickFormat(d => String(d)));
    axes.append("g").attr("transform", `translate(0,${yt})`)
      .call(d3.axisTop(x).tickValues(xTicks).tickSize(-9).tickFormat(""));
  }
  axes.selectAll(".domain").remove();
  axes.selectAll(".tick line").attr("stroke", "#555").attr("stroke-width", 1.5);
  axes.selectAll(".tick text").attr("font-size", FONT)
    .attr("font-family", '"Liberation Sans", Arial, sans-serif').call(stretch);

  const plot = svg.append("g").attr("clip-path", `url(#clip-${p.id})`);
  drawErrorBars(plot, p.red, p.y, RED, plus);
  drawErrorBars(plot, p.blue, p.y, BLUE, cross);

  svg.append("rect").attr("x", xl).attr("y", yt).attr("width", xr - xl).attr("height", yb - yt)
    .attr("fill", "none").attr("stroke", "#222").attr("stroke-width", 1.5);

  // y label |f_xxxx|
  const t = svg.append("text")
    .attr("transform", `translate(34,${p.labelY}) rotate(-90)`)
    .attr("text-anchor", "middle").attr("font-size", FONT);
  t.append("tspan").text("|f");
  t.append("tspan").attr("font-size", FONT * 0.8).attr("dy", "0.3em").text(p.label);
  t.append("tspan").attr("dy", "-0.24em").text("|");
});

// IR labels between panels
svg.append("g").selectAll("text").data(irNames).enter().append("text")
  .attr("x", (d, i) => x(irPos[i])).attr("y", 310)
  .attr("text-anchor", "middle").attr("font-size", FONT)
  .text(d => d).call(stretch);

// title
svg.append("text").attr("x", 877).attr("y", 29).attr("text-anchor", "end")
  .attr("font-size", 26).text(titleText).call(stretch);

// x label
svg.append("text").attr("x", (x.range()[0] + x.range()[1]) / 2).attr("y", 642).attr("text-anchor", "middle")
  .attr("font-size", FONT).text("Longitudinal position [m]").call(stretch);

// legend
const legend = svg.append("g");
[[seriesNames[0], RED, plus, 347], [seriesNames[1], BLUE, cross, 376]].forEach(([name, color, marker, ly]) => {
  legend.append("text").attr("x", 750).attr("y", ly).attr("dy", "0.35em")
    .attr("text-anchor", "end").attr("font-size", FONT).text(name).call(stretch);
  legend.append("path")
    .attr("d", `M768,${ly}H844M768,${ly - 5}V${ly + 5}M844,${ly - 5}V${ly + 5}`)
    .attr("stroke", color).attr("stroke-width", 1.6).attr("fill", "none");
  legend.append("path").attr("transform", `translate(806,${ly})`).attr("d", marker)
    .attr("stroke", color).attr("stroke-width", 1.4).attr("fill", "none");
});

// highlight ellipse around IR5
svg.append("ellipse").attr("cx", 429.5).attr("cy", 335).attr("rx", 33).attr("ry", 231)
  .attr("fill", "none").attr("stroke", RED).attr("stroke-width", 5);
</script>
</body>
</html>
